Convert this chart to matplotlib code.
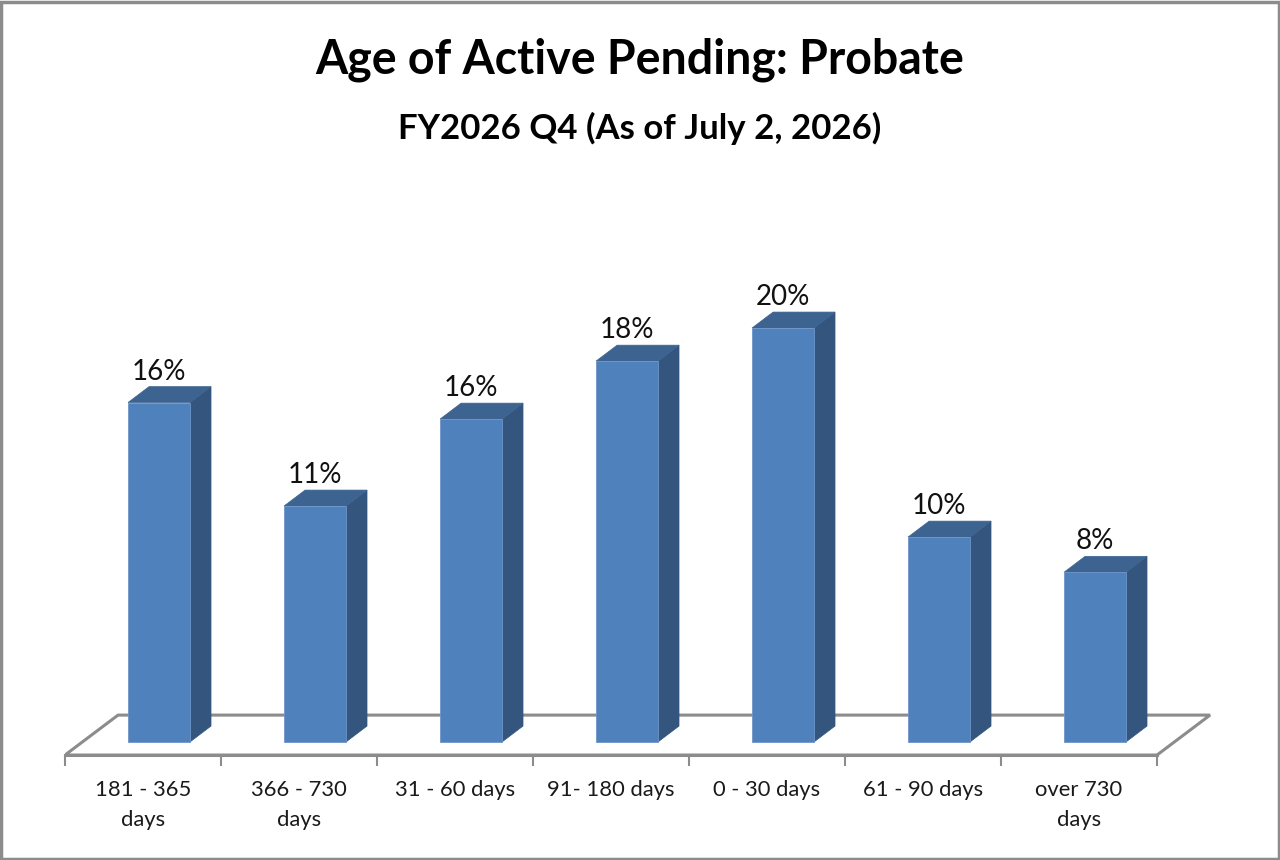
import matplotlib
matplotlib.use("Agg")
import matplotlib.pyplot as plt
from matplotlib.patches import Polygon, Rectangle

categories = ["181 - 365\ndays", "366 - 730\ndays", "31 - 60 days", "91- 180 days",
              "0 - 30 days", "61 - 90 days", "over 730\ndays"]
values = [16.4, 11.4, 15.6, 18.4, 20.0, 9.9, 8.2]
title = "Age of Active Pending: Probate"
subtitle = "FY2026 Q4 (As of July 2, 2026)"

FONT = ["Lato", "DejaVu Sans"]
W, H = 1280, 860
fig = plt.figure(figsize=(12.8, 8.6), dpi=100)
fig.patch.set_facecolor("white")

# pixel geometry of the plotting area
px_cat = 156.0          # pixels per category
px_pct = 20.7           # pixels per percent
x0_px = 65.0            # left of floor front
y0_px = 742.0           # zero level (front bottom of bars)
xmax = 7.4
ymin, ymax = -1.3, 22.5
left = x0_px / W
width = xmax * px_cat / W
bottom = 1 - (y0_px - ymin * px_pct) / H
height = (ymax - ymin) * px_pct / H
ax = fig.add_axes([left, bottom, width, height])
ax.set_xlim(0, xmax)
ax.set_ylim(ymin, ymax)
ax.set_facecolor("none")
for s in ["top", "left", "right"]:
    ax.spines[s].set_visible(False)
ax.set_yticks([])

floor_front = -0.63
floor_back = 1.30
floor_dx = 0.34
n = len(values)
gray = "#8C8C8C"

# floor outline
ax.add_patch(Polygon([(0, floor_front), (n, floor_front), (n + floor_dx, floor_back),
                      (floor_dx, floor_back)], closed=True, fill=False,
                     edgecolor=gray, linewidth=2.2, zorder=1))

ax.spines["bottom"].set_position(("data", floor_front))
ax.spines["bottom"].set_bounds(0, n)
ax.spines["bottom"].set_color(gray)
ax.spines["bottom"].set_linewidth(2.2)
ax.set_xticks(range(n + 1))
ax.set_xticklabels([])
ax.tick_params(axis="x", which="major", length=8, width=1.5, color=gray, direction="out")
ax.set_xticks([i + 0.5 for i in range(n)], minor=True)
ax.set_xticklabels(categories, minor=True, fontsize=15.8, family=FONT, color="#1a1a1a",
                   linespacing=1.65)
ax.tick_params(axis="x", which="minor", length=0, pad=18)

# 3D-looking bars
bw = 0.397
boff = 0.404
ddx = 0.135
ddy = 0.77
front_c = "#4F81BD"
top_c = "#3D6491"
side_c = "#34557E"
for i, v in enumerate(values):
    xl = i + boff
    xr = xl + bw
    ax.add_patch(Polygon([(xr, 0), (xr + ddx, ddy), (xr + ddx, v + ddy), (xr, v)],
                         closed=True, facecolor=side_c, edgecolor=side_c, lw=0.5, zorder=3))
    ax.add_patch(Polygon([(xl, v), (xr, v), (xr + ddx, v + ddy), (xl + ddx, v + ddy)],
                         closed=True, facecolor=top_c, edgecolor=top_c, lw=0.5, zorder=3))
    ax.add_patch(Rectangle((xl, 0), bw, v, facecolor=front_c, edgecolor="#6E95C8",
                           lw=0.6, zorder=4))
    ax.text(xl + bw / 2, v + ddy + 0.1, f"{v:.0f}%", ha="center", va="bottom",
            fontsize=20, family=FONT, color="#111111", zorder=5)

fig.text(0.5, 1 - 60 / H, title, ha="center", va="center", fontsize=33.5,
         fontweight="bold", family=FONT, color="black")
fig.text(0.5, 1 - 128 / H, subtitle, ha="center", va="center", fontsize=25,
         fontweight="bold", family=FONT, color="black")

# figure border
fig.add_artist(Rectangle((0.001, 0.001), 0.998, 0.997, transform=fig.transFigure,
                         fill=False, edgecolor=gray, linewidth=2.5))

fig.savefig("out.png", dpi=100, facecolor="white")
